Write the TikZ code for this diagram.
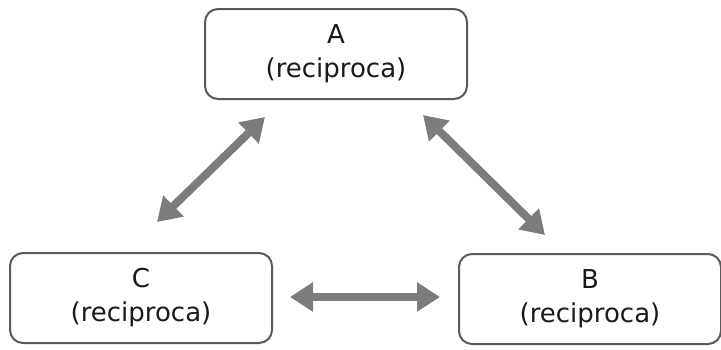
\documentclass[tikz,border=0pt]{standalone}
\usepackage{fontspec}
\setmainfont{DejaVu Sans}
\usetikzlibrary{arrows.meta}
\definecolor{boxline}{HTML}{5A5A5A}
\definecolor{arrowgray}{HTML}{7C7C7C}
\definecolor{textgray}{HTML}{1A1A1A}
\begin{document}
\begin{tikzpicture}[x=1pt,y=-1pt,
  party/.style={draw=boxline, line width=2pt, rounded corners=13pt,
    minimum width=262pt, minimum height=90pt, align=center,
    text=textgray, font=\fontsize{26}{34}\selectfont},
  link/.style={draw=arrowgray, line width=8pt,
    {Triangle[width=28pt,length=23pt]}-{Triangle[width=28pt,length=23pt]}}]
\useasboundingbox (0,0) rectangle (721,349);
\node[party] (A) at (336,54) {A\\(reciproca)};
\node[party] (C) at (141,298) {C\\(reciproca)};
\node[party] (B) at (590,299) {B\\(reciproca)};
\coordinate (ca) at (157,222);
\coordinate (ac) at (265,117);
\coordinate (ab) at (423,115);
\coordinate (ba) at (545,235);
\coordinate (cb) at (290,297);
\coordinate (bc) at (440,297);
\draw[link] (ca) -- (ac);
\draw[link] (ab) -- (ba);
\draw[link] (cb) -- (bc);
\end{tikzpicture}
\end{document}
